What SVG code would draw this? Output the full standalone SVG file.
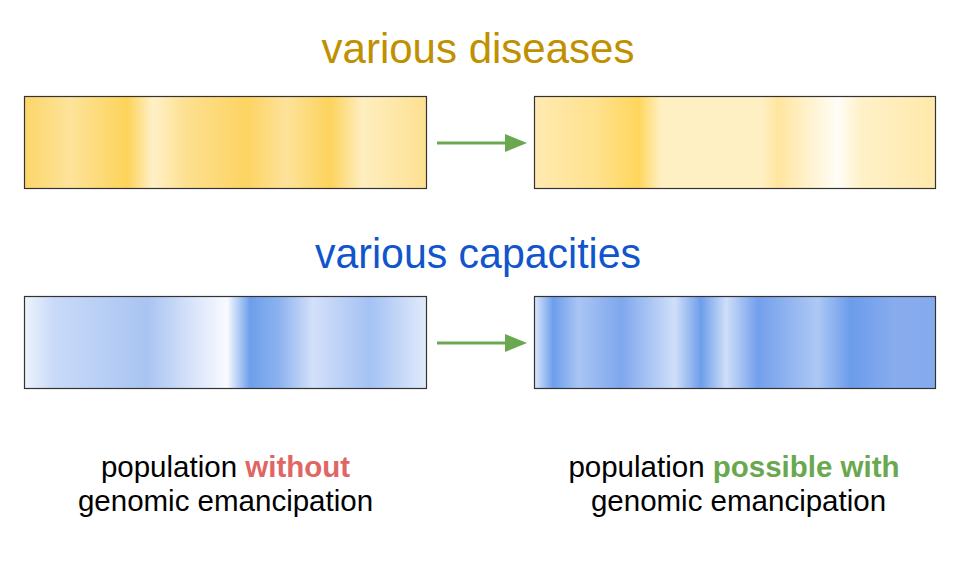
<svg xmlns="http://www.w3.org/2000/svg" width="963" height="562" viewBox="0 0 963 562">
<style>
.t{font-family:"Liberation Sans",Arial,sans-serif;text-anchor:middle}
.title{font-size:42px}
.lbl{font-size:29.5px;fill:#000}
.bar{stroke:#333;stroke-width:1.2}
.arr{stroke:#6aa84f;stroke-width:3;fill:none}
</style>
<defs>
<linearGradient id="g1" x1="0" y1="0" x2="1" y2="0">
<stop offset="0" stop-color="#fcd66a"/>
<stop offset="0.114" stop-color="#fde39a"/>
<stop offset="0.256" stop-color="#fdd35a"/>
<stop offset="0.32" stop-color="#fff0c8"/>
<stop offset="0.40" stop-color="#fde090"/>
<stop offset="0.553" stop-color="#fdd462"/>
<stop offset="0.65" stop-color="#fde29a"/>
<stop offset="0.76" stop-color="#fdd35c"/>
<stop offset="0.84" stop-color="#feeec0"/>
<stop offset="1" stop-color="#fde090"/>
</linearGradient>
<linearGradient id="g2" x1="0" y1="0" x2="1" y2="0">
<stop offset="0" stop-color="#ffeab0"/>
<stop offset="0.15" stop-color="#ffe290"/>
<stop offset="0.26" stop-color="#ffd65c"/>
<stop offset="0.316" stop-color="#fff0c4"/>
<stop offset="0.565" stop-color="#fff0c4"/>
<stop offset="0.607" stop-color="#ffe59e"/>
<stop offset="0.756" stop-color="#fffdf8"/>
<stop offset="0.813" stop-color="#fff1c8"/>
<stop offset="1" stop-color="#ffe9aa"/>
</linearGradient>
<linearGradient id="g3" x1="0" y1="0" x2="1" y2="0">
<stop offset="0" stop-color="#eef3fd"/>
<stop offset="0.072" stop-color="#c9daf8"/>
<stop offset="0.305" stop-color="#a9c4f2"/>
<stop offset="0.437" stop-color="#e0e9fb"/>
<stop offset="0.504" stop-color="#f8fbff"/>
<stop offset="0.561" stop-color="#6d9eeb"/>
<stop offset="0.635" stop-color="#8db3ef"/>
<stop offset="0.717" stop-color="#d3e0f9"/>
<stop offset="0.859" stop-color="#a4c2f4"/>
<stop offset="1" stop-color="#e1eafb"/>
</linearGradient>
<linearGradient id="g4" x1="0" y1="0" x2="1" y2="0">
<stop offset="0" stop-color="#dbe6fb"/>
<stop offset="0.047" stop-color="#6d9eeb"/>
<stop offset="0.11" stop-color="#a9c5f4"/>
<stop offset="0.216" stop-color="#7fa7ed"/>
<stop offset="0.35" stop-color="#d0dff9"/>
<stop offset="0.415" stop-color="#6d9eeb"/>
<stop offset="0.478" stop-color="#cfdef9"/>
<stop offset="0.557" stop-color="#739fec"/>
<stop offset="0.706" stop-color="#adc8f4"/>
<stop offset="0.789" stop-color="#6b9ceb"/>
<stop offset="0.898" stop-color="#88acee"/>
<stop offset="1" stop-color="#84aaee"/>
</linearGradient>
</defs>
<text class="t title" x="478" y="63" fill="#bf9000">various diseases</text>
<text class="t title" x="478" y="268" fill="#1155cc" textLength="326" lengthAdjust="spacingAndGlyphs">various capacities</text>
<g id="diseases-without"><rect class="bar" x="24.5" y="96.5" width="402" height="92" fill="url(#g1)"/></g>
<g id="diseases-with"><rect class="bar" x="534.5" y="96.5" width="401" height="92" fill="url(#g2)"/></g>
<g id="capacities-without"><rect class="bar" x="24.5" y="296.5" width="402" height="92" fill="url(#g3)"/></g>
<g id="capacities-with"><rect class="bar" x="534.5" y="296.5" width="401" height="92" fill="url(#g4)"/></g>
<g id="connectors">
<line class="arr" x1="437" y1="143" x2="506" y2="143"/>
<path d="M505,134 L527,143 L505,152 z" fill="#6aa84f"/>
<line class="arr" x1="437" y1="343" x2="506" y2="343"/>
<path d="M505,334 L527,343 L505,352 z" fill="#6aa84f"/>
</g>
<g id="label-without">
<text class="t lbl" x="225.5" y="477">population <tspan font-weight="bold" fill="#e06666">without</tspan></text>
<text class="t lbl" x="225.5" y="511">genomic emancipation</text>
</g>
<g id="label-with">
<text class="t lbl" x="734" y="477">population <tspan font-weight="bold" fill="#6aa84f">possible with</tspan></text>
<text class="t lbl" x="738.5" y="511">genomic emancipation</text>
</g>
</svg>
